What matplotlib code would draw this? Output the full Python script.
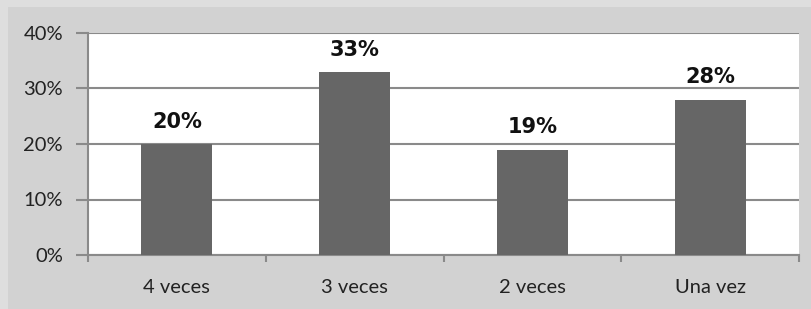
import matplotlib
matplotlib.use("Agg")
import matplotlib.pyplot as plt
import numpy as np
from matplotlib.patches import Rectangle
from matplotlib.ticker import FixedLocator

# Data
categories = ["4 veces", "3 veces", "2 veces", "Una vez"]
values = [20, 33, 19, 28]
yticks = [0, 10, 20, 30, 40]

W, H = 811, 309
fig = plt.figure(figsize=(W / 100, H / 100), dpi=100)
fig.patch.set_facecolor("#dedede")
# inner panel
fig.patches.append(Rectangle((8 / W, 0), 1 - 8 / W, 1 - 7 / H,
                             transform=fig.transFigure, facecolor="#d2d2d2",
                             edgecolor="none", zorder=-10))

ax = fig.add_axes([88 / W, 1 - 255 / H, (799 - 88) / W, (255 - 33) / H])
ax.set_facecolor("white")

x = np.arange(len(categories))
ax.bar(x, values, width=0.4, color="#666666", zorder=3)

for xi, v in zip(x, values):
    ax.text(xi, v + 2.2, f"{v}%", ha="center", va="bottom",
            fontsize=15, fontweight="bold", family="DejaVu Sans", color="#111111")

ax.set_xlim(-0.5, len(categories) - 0.5)
ax.set_ylim(0, 40)
ax.set_yticks(yticks)
ax.set_yticklabels([f"{t}%" for t in yticks], fontsize=14.5, family="Lato", color="#222222")
ax.yaxis.grid(True, color="#8a8a8a", linewidth=1.5, zorder=1)
ax.set_axisbelow(True)
ax.tick_params(axis="y", length=9, width=1.5, color="#8a8a8a", pad=9)

# category labels centered, ticks at boundaries
ax.set_xticks(x)
ax.set_xticklabels(categories, fontsize=14.5, family="Lato", color="#222222")
ax.tick_params(axis="x", length=0, pad=17)
ax.xaxis.set_minor_locator(FixedLocator(np.arange(-0.5, len(categories), 1.0)))
ax.tick_params(axis="x", which="minor", length=5, width=1.5, color="#8a8a8a")

for side in ["top", "right"]:
    ax.spines[side].set_visible(False)
for side in ["left", "bottom"]:
    ax.spines[side].set_color("#8a8a8a")
    ax.spines[side].set_linewidth(1.5)

fig.savefig("out.png", dpi=100, facecolor=fig.get_facecolor())
